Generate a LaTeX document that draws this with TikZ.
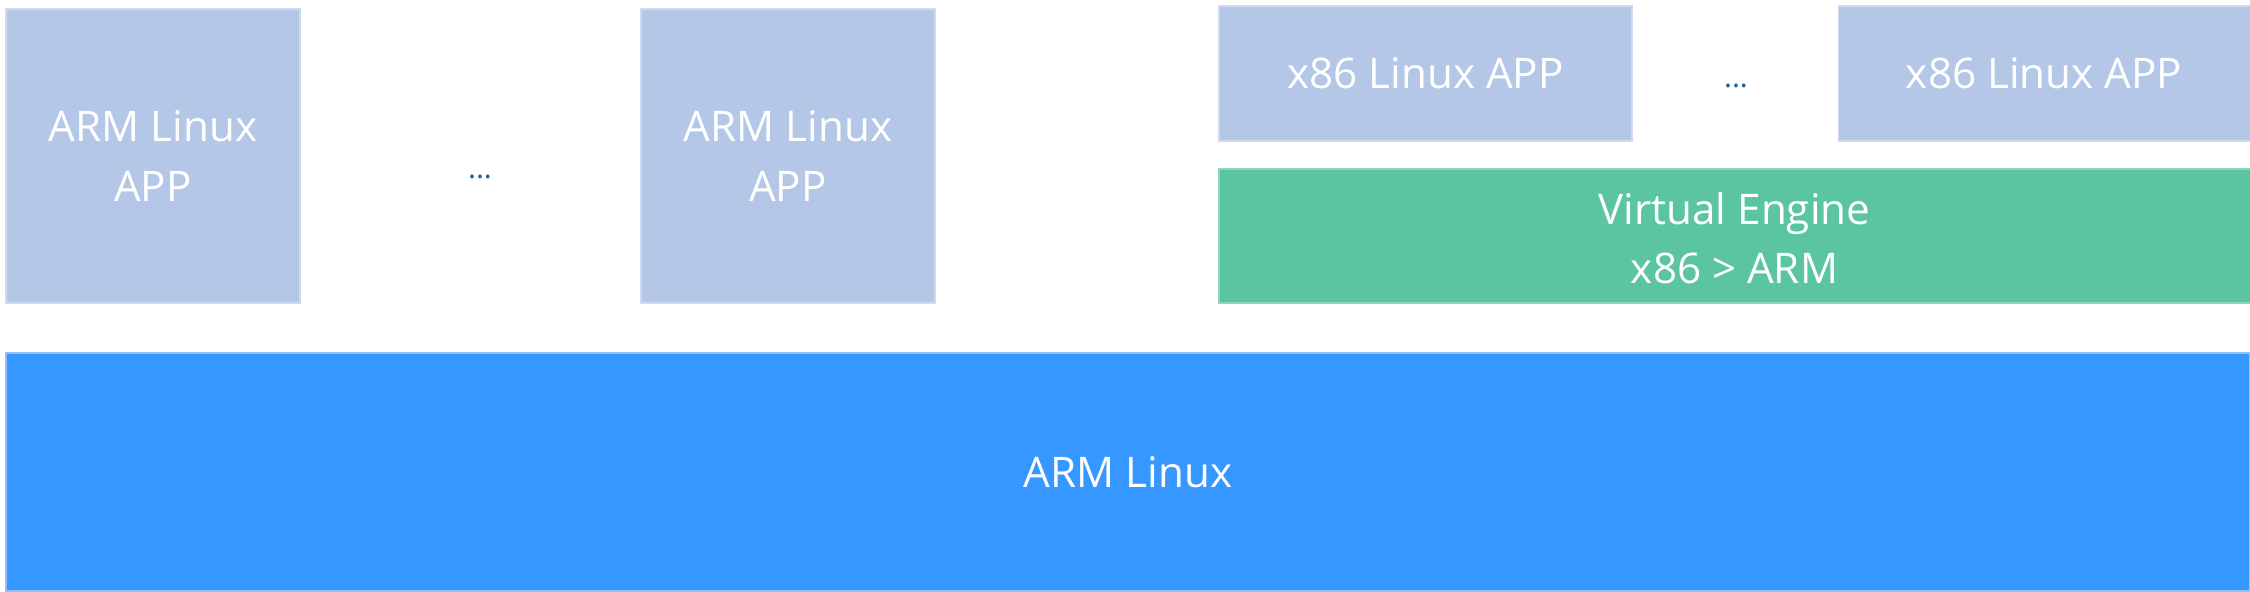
\documentclass[tikz,border=0pt]{standalone}
\usepackage{fontspec}
\setmainfont{Open Sans}
\definecolor{appblue}{HTML}{B4C7E6}
\definecolor{appedge}{HTML}{CDDAEF}
\definecolor{vegreen}{HTML}{5BC5A1}
\definecolor{veedge}{HTML}{8FD6BE}
\definecolor{osblue}{HTML}{3597FF}
\definecolor{osedge}{HTML}{8EC3FA}
\definecolor{dotblue}{HTML}{1F5E9C}
\begin{document}
\begin{tikzpicture}[x=0.1mm,y=-0.1mm,
  box/.style={rectangle,inner sep=0pt,outer sep=0pt,text=white,align=center,line width=0.3pt},
  appbox/.style={box,fill=appblue,draw=appedge},
  txt/.style={font=\fontsize{12}{16.8}\selectfont},
  dots/.style={text=dotblue,inner sep=0pt,font=\fontsize{8.5}{10}\selectfont}]
\useasboundingbox (0,0) rectangle (2250,591);
\node[appbox,txt,minimum width=29.4mm,minimum height=29.4mm] (arm1) at (153,156) {ARM Linux\\APP};
\node[appbox,txt,minimum width=29.4mm,minimum height=29.4mm] (arm2) at (788,156) {ARM Linux\\APP};
\node[dots] (d1) at (480,177) {...};
\node[appbox,txt,minimum width=41.3mm,minimum height=13.5mm] (x1) at (1425.5,73.5) {\raisebox{-0.3mm}{x86 Linux APP}};
\node[dots] (d2) at (1736,86) {...};
\node[appbox,txt,minimum width=41.2mm,minimum height=13.5mm] (x2) at (2044,73.5) {\raisebox{-0.3mm}{x86 Linux APP}};
\node[box,txt,fill=vegreen,draw=veedge,minimum width=103.1mm,minimum height=13.4mm,text depth=0pt] (ve) at (1734.5,236) {\raisebox{-0.3mm}{Virtual Engine}\\\raisebox{-0.3mm}{x86 > ARM}};
\node[box,txt,fill=osblue,draw=osedge,minimum width=224.4mm,minimum height=23.8mm] (os) at (1128,472) {ARM Linux};
\end{tikzpicture}
\end{document}
